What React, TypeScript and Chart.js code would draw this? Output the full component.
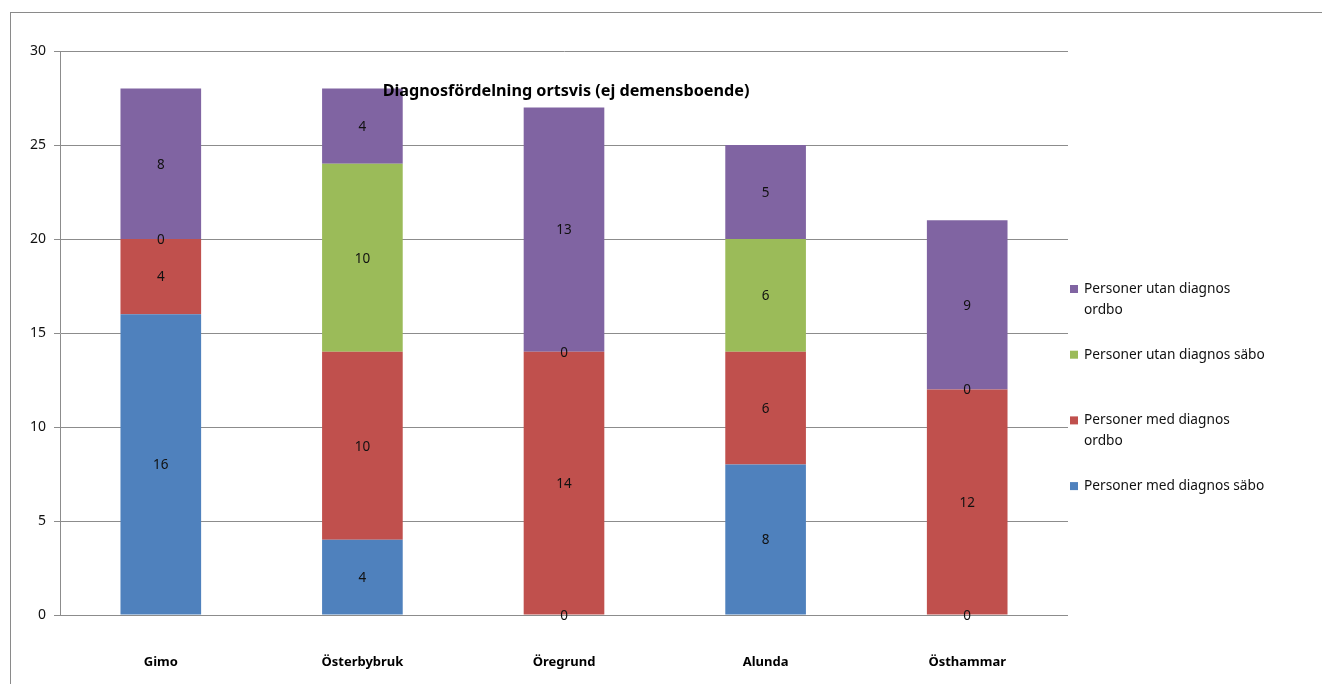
import React, { useEffect, useRef } from "react";
import { Chart, registerables } from "chart.js";

Chart.register(...registerables);

// Places (x categories)
const places = ["Gimo", "Österbybruk", "Öregrund", "Alunda", "Östhammar"];

// Series, bottom of stack first
const medDiagnosSabo = [16, 4, 0, 8, 0];
const medDiagnosOrdbo = [4, 10, 14, 6, 12];
const utanDiagnosSabo = [0, 10, 0, 6, 0];
const utanDiagnosOrdbo = [8, 4, 13, 5, 9];

const seriesNames = [
  "Personer med diagnos säbo",
  "Personer med diagnos ordbo",
  "Personer utan diagnos säbo",
  "Personer utan diagnos ordbo",
];
const seriesColors = ["#4F81BD", "#C0504D", "#9BBB59", "#8064A2"];

const yTicks = [0, 5, 10, 15, 20, 25, 30];
const chartTitle = "Diagnosfördelning ortsvis (ej demensboende)";

const FONT = "'Noto Sans', 'Liberation Sans', sans-serif";

// Outer frame lines along the top and left edge
const framePlugin = {
  id: "frame",
  beforeDraw(chart: any) {
    const ctx = chart.ctx;
    ctx.save();
    ctx.strokeStyle = "#8a8a8a";
    ctx.lineWidth = 1;
    ctx.beginPath();
    ctx.moveTo(10, 12.5);
    ctx.lineTo(chart.width, 12.5);
    ctx.moveTo(10.5, 12);
    ctx.lineTo(10.5, chart.height);
    ctx.stroke();
    ctx.restore();
  },
};

// Value labels centred in every segment, zero values included
const valueLabelPlugin = {
  id: "valueLabels",
  afterDatasetsDraw(chart: any) {
    const ctx = chart.ctx;
    ctx.save();
    ctx.font = `13.5px ${FONT}`;
    ctx.fillStyle = "#111";
    ctx.textAlign = "center";
    ctx.textBaseline = "middle";
    chart.data.datasets.forEach((ds: any, di: number) => {
      const meta = chart.getDatasetMeta(di);
      meta.data.forEach((bar: any, i: number) => {
        const y = (bar.y + bar.base) / 2;
        ctx.fillText(String(ds.data[i]), bar.x, y + 1);
      });
    });
    ctx.restore();
  },
};

// Title drawn over the plot area
const titlePlugin = {
  id: "overlayTitle",
  afterDraw(chart: any) {
    const { ctx, chartArea } = chart;
    ctx.save();
    ctx.font = `bold 16.2px ${FONT}`;
    ctx.fillStyle = "#000";
    ctx.textAlign = "center";
    ctx.textBaseline = "middle";
    ctx.fillText(chartTitle, (chartArea.left + chartArea.right) / 2 + 2, chartArea.top + 40);
    ctx.restore();
  },
};

// Legend on the right, top series first, with word wrapping
const legendPlugin = {
  id: "sideLegend",
  afterDraw(chart: any) {
    const { ctx, chartArea } = chart;
    ctx.save();
    ctx.font = `13.7px ${FONT}`;
    ctx.textBaseline = "middle";
    const x0 = chartArea.right + 2;
    const maxW = 184;
    const order = [3, 2, 1, 0];
    order.forEach((si, k) => {
      const y = chartArea.top + 238 + k * 65.7;
      const words = chart.data.datasets[si].label.split(" ");
      const lines: string[] = [];
      let cur = "";
      words.forEach((w: string) => {
        const t = cur ? cur + " " + w : w;
        if (cur && ctx.measureText(t).width > maxW) {
          lines.push(cur);
          cur = w;
        } else cur = t;
      });
      lines.push(cur);
      ctx.fillStyle = chart.data.datasets[si].backgroundColor;
      ctx.fillRect(x0, y - 4, 8, 8);
      ctx.fillStyle = "#111";
      lines.forEach((ln, li) => ctx.fillText(ln, x0 + 14, y + li * 21));
    });
    ctx.restore();
  },
};

export default function App() {
  const ref = useRef<HTMLCanvasElement>(null);

  useEffect(() => {
    if (!ref.current) return;
    const values = [medDiagnosSabo, medDiagnosOrdbo, utanDiagnosSabo, utanDiagnosOrdbo];
    const chart = new Chart(ref.current, {
      type: "bar",
      data: {
        labels: places,
        datasets: values.map((v, i) => ({
          label: seriesNames[i],
          data: v,
          backgroundColor: seriesColors[i],
          borderWidth: 0,
          barPercentage: 1,
          categoryPercentage: 0.4,
        })),
      },
      options: {
        responsive: false,
        animation: false,
        layout: { padding: { top: 51, right: 254, left: 0, bottom: 0 } },
        plugins: {
          legend: { display: false },
          title: { display: false },
          tooltip: { enabled: false },
        },
        scales: {
          x: {
            stacked: true,
            grid: { display: false },
            border: { display: false },
            ticks: {
              font: { family: FONT, size: 13, weight: "bold" },
              color: "#000",
              padding: 31,
            },
            afterFit(scale: any) {
              scale.height = 69;
            },
          },
          y: {
            stacked: true,
            min: 0,
            max: 30,
            afterBuildTicks(scale: any) {
              scale.ticks = yTicks.map((v) => ({ value: v }));
            },
            grid: { color: "#8c8c8c", lineWidth: 1, tickLength: 6 },
            border: { display: true, color: "#8c8c8c" },
            ticks: {
              font: { family: FONT, size: 14 },
              color: "#111",
              padding: 8,
            },
            afterFit(scale: any) {
              scale.width = 60;
            },
          },
        },
      },
      plugins: [framePlugin, valueLabelPlugin, titlePlugin, legendPlugin],
    });
    return () => chart.destroy();
  }, []);

  return (
    <div style={{ position: "absolute", left: 0, top: 0, width: 1322, height: 684, background: "#fff" }}>
      <canvas ref={ref} width={1322} height={684} style={{ display: "block" }} />
    </div>
  );
}
